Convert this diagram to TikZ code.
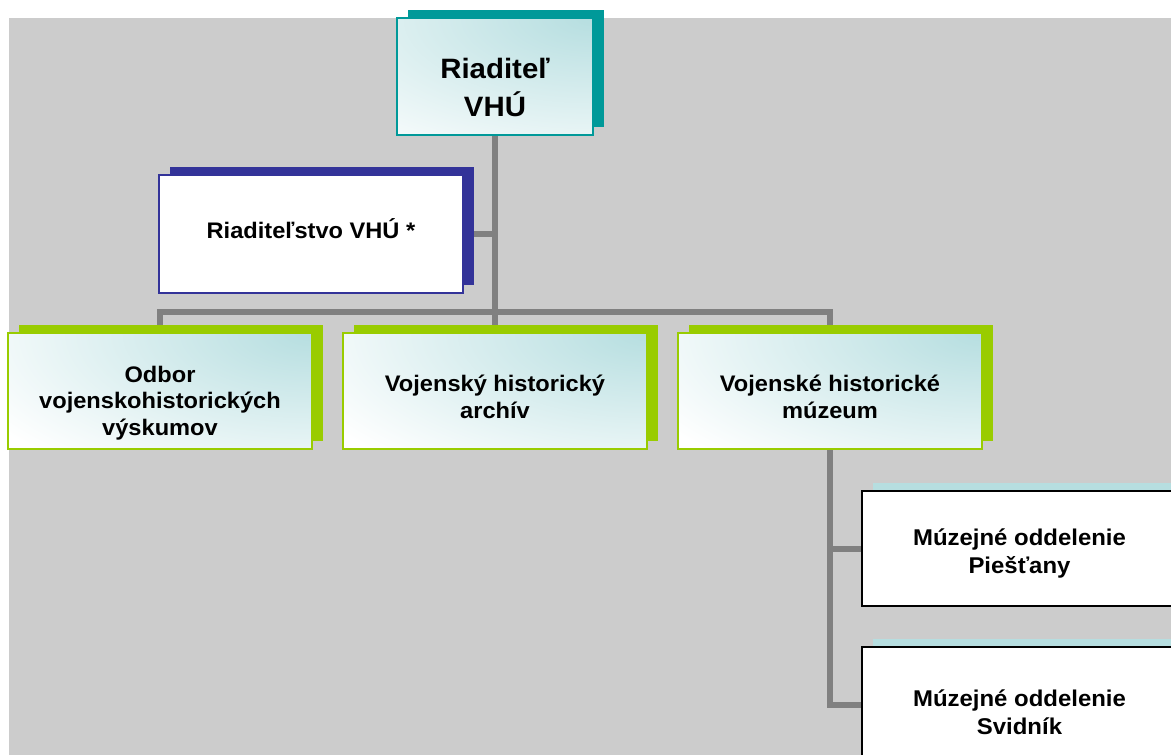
\documentclass[tikz,border=0pt]{standalone}
\usepackage{fontspec}
\setmainfont{Liberation Sans}[FakeStretch=1.05]
\usetikzlibrary{shadows}

\definecolor{bggray}{RGB}{204,204,204}
\definecolor{linegray}{RGB}{128,128,128}
\definecolor{tealdark}{RGB}{0,153,153}
\definecolor{tealpale}{RGB}{182,222,224}
\definecolor{limegreen}{RGB}{153,204,0}
\definecolor{navyblue}{RGB}{51,51,153}

\pgfdeclarelayer{bg}\pgfdeclarelayer{wires}
\pgfsetlayers{bg,wires,main}

\tikzset{
  orgbox/.style={draw=#1, line width=1.5pt, fill=white, inner sep=0pt,
    minimum width=304pt, minimum height=116pt,
    drop shadow={shadow xshift=11pt, shadow yshift=8pt, fill=#1, opacity=1}},
  glow/.style={path picture={\fill[inner color=tealpale, outer color=white]
    (path picture bounding box.north east) ellipse [x radius=380pt, y radius=170pt];}},
  wire/.style={draw=linegray, line width=6pt},
  caption/.style={font=\bfseries\fontsize{22.5}{26.5}\selectfont, align=center}
}

\begin{document}
\begin{tikzpicture}[x=1pt, y=-1pt]
\useasboundingbox (0,0) rectangle (1171,755);
\clip (0,0) rectangle (1171,755);
\begin{pgfonlayer}{bg}
  \fill[bggray] (9,18) rectangle (1171,755);
\end{pgfonlayer}

% top
\node[orgbox=tealdark, glow, minimum width=196pt, minimum height=117pt] (chief) at (495,76.5) {};
\node[caption, font=\bfseries\fontsize{28}{38}\selectfont] (chieftxt) at (495,87) {Riaditeľ\\VHÚ};

% staff
\node[orgbox=navyblue, minimum height=118pt] (staff) at (311,234) {};
\node[caption] (stafftxt) at (311,228.5) {Riaditeľstvo VHÚ *};

% second level
\node[orgbox=limegreen, glow] (research) at (160,391) {};
\node[caption] (researchtxt) at (160,403) {Odbor\\vojenskohistorických\\výskumov};
\node[orgbox=limegreen, glow] (archive) at (495,391) {};
\node[caption] (archivetxt) at (495,397) {Vojenský historický\\archív};
\node[orgbox=limegreen, glow] (museum) at (830,391) {};
\node[caption] (museumtxt) at (830,397) {Vojenské historické\\múzeum};

% museum branches
\node[orgbox=tealpale, draw=black, minimum width=315pt, minimum height=115pt] (piestany) at (1019.5,548.5) {};
\node[caption, font=\bfseries\fontsize{22.8}{28}\selectfont] (piestanytxt) at (1019.5,553) {Múzejné oddelenie\\Piešťany};
\node[orgbox=tealpale, draw=black, minimum width=315pt, minimum height=115pt] (svidnik) at (1019.5,704.5) {};
\node[caption, font=\bfseries\fontsize{22.8}{28}\selectfont] (svidniktxt) at (1019.5,712) {Múzejné oddelenie\\Svidník};

\begin{pgfonlayer}{wires}
  \coordinate (bus) at (495,312);
  \draw[wire] (chief.south) -- (archive.north);
  \draw[wire] (staff.east) -- (staff.east -| chief.south);
  \draw[wire] (research.north) |- (bus) -| (museum.north);
  \draw[wire] (museum.south) |- (svidnik.west);
  \draw[wire] (piestany.west) -- (piestany.west -| museum.south);
\end{pgfonlayer}
\end{tikzpicture}
\end{document}
